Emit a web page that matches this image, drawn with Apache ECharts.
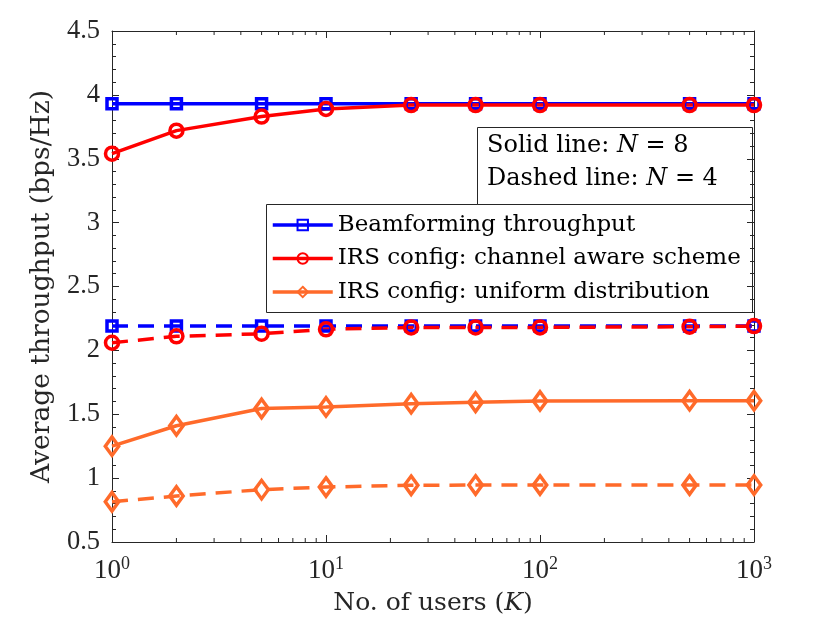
<!DOCTYPE html>
<html><head><meta charset="utf-8">
<script src="https://cdn.jsdelivr.net/npm/echarts@6/dist/echarts.min.js"></script>
<style>html,body{margin:0;padding:0;background:#fff}#c{width:830px;height:628px}</style>
</head><body><div id="c"></div>
<script>
// ---- data ----
const users = [1, 2, 5, 10, 25, 50, 100, 500, 1000];
const bfN8 = [3.93, 3.93, 3.93, 3.93, 3.93, 3.93, 3.93, 3.93, 3.93];
const caN8 = [3.54, 3.72, 3.83, 3.89, 3.92, 3.92, 3.92, 3.92, 3.92];
const udN8 = [1.25, 1.41, 1.545, 1.557, 1.583, 1.594, 1.604, 1.606, 1.606];
const bfN4 = [2.19, 2.19, 2.19, 2.19, 2.19, 2.19, 2.19, 2.19, 2.19];
const caN4 = [2.06, 2.11, 2.13, 2.165, 2.18, 2.18, 2.18, 2.185, 2.19];
const udN4 = [0.815, 0.86, 0.91, 0.93, 0.944, 0.946, 0.946, 0.946, 0.946];
const legendNames = ['Beamforming throughput', 'IRS config: channel aware scheme', 'IRS config: uniform distribution'];
const boxLabels = ['Solid line: ', 'Dashed line: '];
const boxN = [8, 4];
const xMajor = [1, 10, 100, 1000];
const xMinorMult = [2, 3, 4, 5, 6, 7, 8, 9];
const yMin = 0.5, yMax = 4.5, yStep = 0.5;

const NUMFONT = 'Liberation Serif';
const FONT = 'DejaVu Serif';
const AX = '#262626';
const BLUE = '#0000FF', RED = '#FF0000', ORANGE = '#FF6A2A';

const chart = echarts.init(document.getElementById('c'), null, {renderer: 'canvas'});
const pairs = arr => users.map((u, i) => [u, arr[i]]);

function mk(name, arr, color, symbol, size, dashed) {
  return {
    type: 'line', name: name, data: pairs(arr),
    symbol: symbol, symbolSize: size, showSymbol: true,
    lineStyle: {color: color, width: 3.5, type: dashed ? [16, 10] : 'solid'},
    itemStyle: {color: 'rgba(255,255,255,0)', borderColor: color, borderWidth: 3.5},
    emphasis: {disabled: true}, animation: false
  };
}

const axisCommon = {
  axisLine: {show: true, lineStyle: {color: AX, width: 1}},
  axisTick: {show: true, inside: true, length: 7, lineStyle: {color: AX, width: 1}},
  splitLine: {show: false}
};

chart.setOption({
  backgroundColor: '#fff',
  animation: false,
  grid: {left: 112, top: 31, right: 76, bottom: 86, containLabel: false},
  xAxis: [
    Object.assign({}, axisCommon, {
      type: 'log', logBase: 10, min: xMajor[0], max: xMajor[xMajor.length - 1], position: 'bottom',
      name: 'No. of users ({i|K})', nameLocation: 'middle', nameGap: 49,
      nameTextStyle: {fontFamily: FONT, fontSize: 25, color: AX,
        rich: {i: {fontFamily: FONT, fontStyle: 'italic', fontSize: 25, color: AX}}},
      axisLabel: {
        margin: 13,
        formatter: v => '{b|10}{s|' + Math.round(Math.log10(v)) + '}',
        rich: {
          b: {fontFamily: NUMFONT, fontSize: 27, color: AX},
          s: {fontFamily: NUMFONT, fontSize: 18, color: AX, padding: [0, 0, 14, 0]}
        }
      }
    }),
    Object.assign({}, axisCommon, {
      type: 'log', logBase: 10, min: xMajor[0], max: xMajor[xMajor.length - 1], position: 'top',
      axisLabel: {show: false}
    })
  ],
  yAxis: [
    Object.assign({}, axisCommon, {
      type: 'value', min: yMin, max: yMax, interval: yStep, position: 'left',
      name: 'Average throughput (bps/Hz)', nameLocation: 'middle', nameGap: 54, nameRotate: 90,
      nameTextStyle: {fontFamily: FONT, fontSize: 26.5, color: AX},
      minorTick: {show: true, splitNumber: 5, length: 4, lineStyle: {color: AX, width: 1}},
      axisLabel: {fontFamily: NUMFONT, fontSize: 26.5, color: AX, margin: 12}
    }),
    Object.assign({}, axisCommon, {
      type: 'value', min: yMin, max: yMax, interval: yStep, position: 'right',
      minorTick: {show: true, splitNumber: 5, length: 4, lineStyle: {color: AX, width: 1}},
      axisLabel: {show: false}
    })
  ],
  legend: {
    show: true, data: legendNames, orient: 'vertical', left: 271, top: 213,
    padding: 0, itemGap: 9.5, itemWidth: 60, itemHeight: 13,
    lineStyle: {width: 3.5},
    textStyle: {fontFamily: FONT, fontSize: 23, color: '#000', lineHeight: 24},
    selectedMode: false
  },
  series: [
    mk(legendNames[0], bfN8, BLUE, 'rect', 10, false),
    mk(legendNames[1], caN8, RED, 'circle', 13, false),
    mk(legendNames[2], udN8, ORANGE, 'diamond', [13.5, 18.5], false),
    mk(legendNames[0] + ' (N=4)', bfN4, BLUE, 'rect', 10, true),
    mk(legendNames[1] + ' (N=4)', caN4, RED, 'circle', 13, true),
    mk(legendNames[2] + ' (N=4)', udN4, ORANGE, 'diamond', [13.5, 18.5], true)
  ]
});

// minor ticks of the log x-axis at 2..9 x decade, positioned through the axis scale
const els = [];
const yb = chart.convertToPixel({yAxisIndex: 0}, yMin);
const yt = chart.convertToPixel({yAxisIndex: 0}, yMax);
xMajor.slice(0, -1).forEach(d => xMinorMult.forEach(m => {
  const px = chart.convertToPixel({xAxisIndex: 0}, d * m);
  els.push({type: 'line', silent: true, shape: {x1: px, y1: yb, x2: px, y2: yb - 4}, style: {stroke: AX, lineWidth: 1}, z: 10});
  els.push({type: 'line', silent: true, shape: {x1: px, y1: yt, x2: px, y2: yt + 4}, style: {stroke: AX, lineWidth: 1}, z: 10});
}));
// legend box
els.push({type: 'rect', silent: true, shape: {x: 266.5, y: 204.5, width: 486, height: 108},
  style: {fill: '#fff', stroke: AX, lineWidth: 1}, z: 0});
// annotation box
els.push({type: 'rect', silent: true, shape: {x: 477.5, y: 127.5, width: 275, height: 77},
  style: {fill: '#fff', stroke: AX, lineWidth: 1}, z: 0});
boxLabels.forEach((t, i) => {
  els.push({type: 'text', silent: true, x: 487, y: 146 + i * 33, z: 1,
    style: {text: t + '{i|N} = ' + boxN[i], fontFamily: FONT, fontSize: 24, fill: '#000', verticalAlign: 'middle',
      rich: {i: {fontFamily: FONT, fontStyle: 'italic', fontSize: 24, fill: '#000'}}}});
});
chart.setOption({graphic: {elements: els}});
</script>
</body></html>
